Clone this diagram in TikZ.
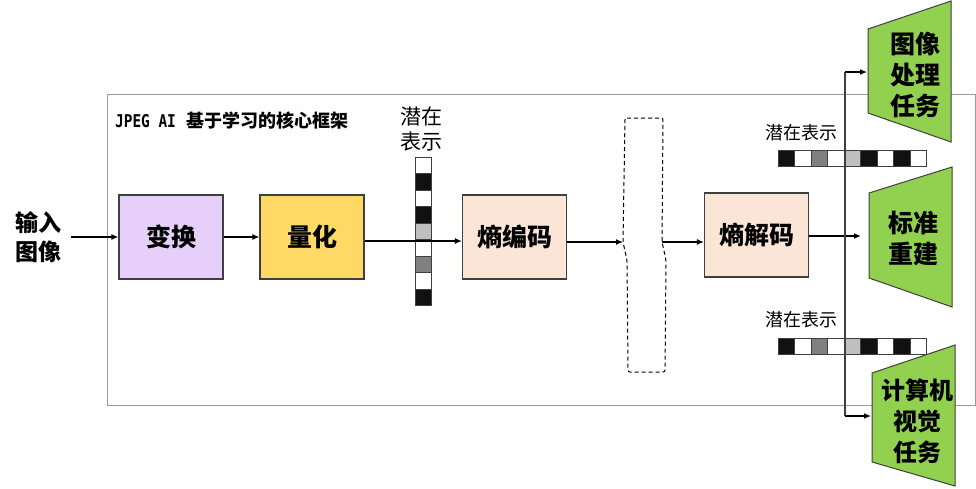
\documentclass[tikz,border=0pt]{standalone}
\usepackage{fontspec}
\setmainfont{Noto Sans CJK SC}
\newfontfamily\latinmono{DejaVu Sans Mono}
\usetikzlibrary{arrows.meta,positioning,calc}
\definecolor{framegray}{HTML}{9A9A9A}
\definecolor{edgegray}{HTML}{3F3F3F}
\definecolor{lilac}{HTML}{E6D0FA}
\definecolor{goldfill}{HTML}{FFD966}
\definecolor{peach}{HTML}{FBE5D6}
\definecolor{leaf}{HTML}{92D050}
\definecolor{cellmid}{HTML}{808080}
\definecolor{celllight}{HTML}{BFBFBF}
\definecolor{celldark}{HTML}{111111}
\tikzset{
  procbox/.style={
    draw=edgegray,
    line width=1.2pt,
    minimum width=104pt,
    minimum height=84pt,
    inner sep=0pt,
    font=\fontsize{25}{28}\selectfont\bfseries
  },
  tasklabel/.style={
    align=center,
    inner sep=0pt,
    font=\fontsize{25}{31}\selectfont\bfseries
  },
  latentlabel/.style={
    align=center,
    inner sep=0pt,
    font=\fontsize{18}{25}\selectfont
  },
  taskshape/.style={
    draw=edgegray,
    fill=leaf,
    line width=1pt
  },
  cell/.style={
    draw=edgegray,
    line width=0.8pt
  },
  arrow/.style={
    -{Latex[length=7pt,width=6pt]},
    line width=1.3pt
  }
}

\begin{document}
\begin{tikzpicture}[x=1pt,y=-1pt]
\useasboundingbox (0,0) rectangle (976,488);
% frame and title
\draw[framegray, line width=1pt] (107,94) rectangle (975,405);
\node[anchor=west, inner sep=0pt] (title) at (115,121)
  {\scalebox{0.9}[1.1]{\latinmono\bfseries\fontsize{16}{18}\selectfont JPEG AI}\hspace{11pt}{\fontsize{18}{20}\selectfont\bfseries 基于学习的核心框架}};
% encoder side
\node[tasklabel, font=\fontsize{23}{29}\selectfont\bfseries] (input) at (39,237) {输入\\图像};
\node[procbox, fill=lilac] (transform) at (171,237) {变换};
\node[procbox, fill=goldfill] (quant) at (312,237) {量化};
\node[procbox, fill=peach] (enc) at (514.5,237) {熵编码};
\node[procbox, fill=peach] (dec) at (756.5,235) {熵解码};
% latent (vertical)
\foreach \c [count=\i from 0] in {white,celldark,white,celldark,celllight,white,cellmid,white,celldark}
  \draw[cell, fill=\c] (415,{157+16.5*\i}) rectangle ++(16,16.5);
\node[latentlabel, font=\fontsize{21}{25}\selectfont] (latentv) at (421,129) {潜在\\表示};
% channel
\coordinate (chin) at (623,242);
\coordinate (chout) at (662,242);
\draw[line width=1pt, dash pattern=on 4pt off 3pt, rounded corners=2pt]
  (625,118) -- (663,118) -- (chout) -- (666,260) -- (665,372)
  -- (628,372) -- (627,260) -- (chin) -- cycle;
% latents (horizontal)
\foreach \y/\t in {150/133, 338/320} {
  \foreach \c [count=\i from 0] in {celldark,white,cellmid,white,celllight,celldark,white,celldark,white}
    \draw[cell, fill=\c] ({778+16.5*\i},\y) rectangle ++(16.5,16);
  \node[latentlabel] at (801,\t) {潜在表示};
}
% task heads
\draw[taskshape] (868,29) -- (951,1) -- (951,142) -- (868,113) -- cycle;
\node[tasklabel] (proc) at (915,75) {图像\\处理\\任务};
\draw[taskshape] (869,193) -- (952,167) -- (952,307) -- (869,278) -- cycle;
\node[tasklabel] (recon) at (913,238) {标准\\重建};
\draw[taskshape] (872,373) -- (955,345) -- (955,486) -- (872,462) -- cycle;
\node[tasklabel, font=\fontsize{24}{31}\selectfont\bfseries] (vision) at (917,421) {计算机\\视觉\\任务};
\coordinate (procin) at (867,72);
\coordinate (reconin) at (861,236);
\coordinate (visionin) at (871,416);
\coordinate (splittop) at (845,72);
\coordinate (splitbot) at (845,416);
% connectors
\draw[arrow, shorten <=9pt] (input) -- (transform);
\draw[arrow] (transform) -- (quant);
\draw[arrow] ([yshift=-4pt]quant.east) -- ([yshift=-4pt]enc.west);
\draw[arrow] ([yshift=-5pt]enc.east) -- (chin);
\draw[arrow] (chout) -- (chout -| dec.west);
\draw[arrow, line width=1.8pt] (dec.east |- reconin) -- (reconin);
\draw[edgegray, line width=1.6pt] (splittop) -- (splitbot);
\draw[arrow] (splittop) -- (procin);
\draw[arrow] (splitbot) -- (visionin);
\end{tikzpicture}
\end{document}
